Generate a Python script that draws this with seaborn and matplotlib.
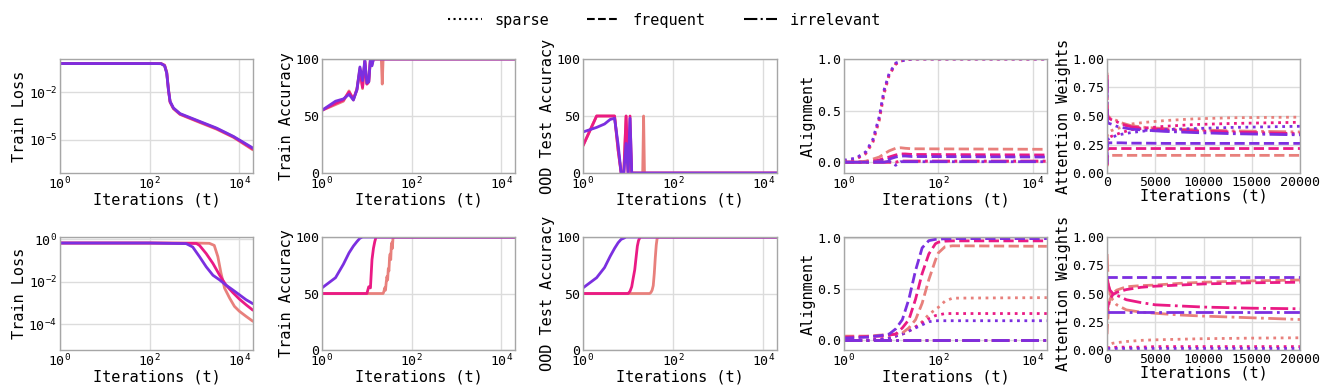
import matplotlib
matplotlib.use("Agg")
import matplotlib.pyplot as plt
from matplotlib.lines import Line2D
import seaborn as sns

# ---------------- colours / names ----------------
series_names = ["salmon", "pink", "purple"]
palette = {"salmon": "#e8807c", "pink": "#ea1a84", "purple": "#7b2fe0"}
token_styles = {"sparse": ":", "frequent": "--", "irrelevant": "-."}
legend_labels = ["sparse", "frequent", "irrelevant"]

ylabels = ["Train Loss", "Train Accuracy", "OOD Test Accuracy", "Alignment", "Attention Weights"]
xlabel = "Iterations (t)"

# ================= TOP ROW =================
# Train loss
top_loss_t = [1, 10, 100, 180, 215, 240, 262, 285, 338, 475, 1320, 3100, 7400, 20000]
top_loss_purple = [0.62, 0.62, 0.62, 0.61, 0.45, 0.155, 0.014, 0.0026, 0.001, 4.4e-4, 1.4e-4, 5.4e-5, 1.6e-5, 3.0e-6]
top_loss_pink = [0.62, 0.62, 0.62, 0.61, 0.46, 0.16, 0.013, 0.0024, 0.00095, 4.1e-4, 1.3e-4, 5.0e-5, 1.5e-5, 2.6e-6]
top_loss_salmon = [0.62, 0.62, 0.62, 0.61, 0.50, 0.18, 0.016, 0.0023, 0.0009, 3.9e-4, 1.2e-4, 4.6e-5, 1.4e-5, 2.3e-6]

# Train accuracy
top_acc_t = [1, 2, 3, 4, 5, 6, 7, 8, 9, 10, 11, 12, 13, 14, 20, 21, 22, 23, 20000]
top_acc_purple = [55, 63, 65, 69, 64, 73, 93, 81, 99, 79, 80, 100, 94, 100, 100, 100, 100, 100, 100]
top_acc_pink = [55, 61, 64, 71, 65, 73, 90, 75, 98, 78, 80, 100, 96, 100, 100, 100, 100, 100, 100]
top_acc_salmon = [55, 60, 63, 72, 64, 74, 92, 74, 98, 78, 80, 100, 95, 100, 100, 100, 78, 100, 100]

# OOD test accuracy
top_ood_t = [1, 2, 3, 4, 5, 6, 7, 8, 9, 10, 11, 12, 21, 22, 23, 20000]
top_ood_purple = [36, 40, 43, 47, 48, 25, 0, 0, 26, 0, 48, 0, 0, 0, 0, 0]
top_ood_pink = [24, 50, 50, 50, 50, 20, 0, 0, 50, 0, 50, 0, 0, 0, 0, 0]
top_ood_salmon = [24, 50, 50, 50, 50, 20, 0, 0, 50, 0, 30, 0, 0, 50, 0, 0]

# Alignment
top_al_t = [1, 1.8, 2.9, 4.1, 5.6, 7.1, 9.1, 12.5, 16, 20, 28, 20000]
top_al_sparse_purple = [0.02, 0.04, 0.10, 0.22, 0.44, 0.70, 0.86, 0.96, 0.98, 0.99, 1.0, 1.0]
top_al_sparse_pink = [0.01, 0.03, 0.09, 0.20, 0.42, 0.68, 0.85, 0.95, 0.98, 0.99, 1.0, 1.0]
top_al_sparse_salmon = [0.01, 0.03, 0.08, 0.19, 0.40, 0.66, 0.84, 0.95, 0.98, 0.99, 1.0, 1.0]
top_al_freq_salmon = [0.0, 0.0, 0.01, 0.03, 0.05, 0.08, 0.11, 0.135, 0.14, 0.135, 0.13, 0.125]
top_al_freq_pink = [0.0, 0.0, 0.0, 0.01, 0.02, 0.04, 0.05, 0.07, 0.08, 0.08, 0.075, 0.07]
top_al_freq_purple = [0.0, 0.0, 0.0, 0.0, 0.01, 0.02, 0.03, 0.05, 0.06, 0.06, 0.055, 0.05]
top_al_irr_salmon = [0.0, 0.0, 0.0, 0.0, 0.0, 0.0, 0.0, 0.0, 0.01, 0.01, 0.01, 0.01]
top_al_irr_pink = [0.0, 0.0, 0.0, 0.0, 0.0, 0.0, 0.0, 0.0, 0.01, 0.01, 0.01, 0.01]
top_al_irr_purple = [0.0, 0.0, 0.0, 0.0, 0.0, 0.0, 0.01, -0.03, 0.005, 0.005, 0.005, 0.005]

# Attention weights
top_att_t = [0, 20, 50, 100, 200, 400, 700, 1000, 1500, 2500, 4000, 6000, 9000, 13000, 20000]
top_att_irr_salmon = [0.88, 0.60, 0.52, 0.50, 0.49, 0.48, 0.47, 0.46, 0.44, 0.415, 0.40, 0.39, 0.38, 0.37, 0.36]
top_att_irr_pink = [0.86, 0.58, 0.51, 0.49, 0.48, 0.47, 0.46, 0.45, 0.43, 0.405, 0.39, 0.38, 0.37, 0.36, 0.345]
top_att_irr_purple = [0.82, 0.50, 0.45, 0.44, 0.435, 0.43, 0.42, 0.41, 0.40, 0.385, 0.375, 0.365, 0.355, 0.345, 0.335]
top_att_freq_salmon = [0.06, 0.12, 0.14, 0.15, 0.155, 0.155, 0.155, 0.155, 0.155, 0.155, 0.155, 0.155, 0.155, 0.155, 0.155]
top_att_freq_pink = [0.07, 0.17, 0.20, 0.21, 0.215, 0.215, 0.215, 0.215, 0.215, 0.215, 0.215, 0.215, 0.215, 0.215, 0.215]
top_att_freq_purple = [0.08, 0.22, 0.25, 0.26, 0.265, 0.265, 0.265, 0.265, 0.265, 0.262, 0.262, 0.26, 0.26, 0.26, 0.26]
top_att_sparse_salmon = [0.06, 0.28, 0.34, 0.35, 0.36, 0.37, 0.38, 0.39, 0.40, 0.43, 0.445, 0.46, 0.475, 0.485, 0.49]
top_att_sparse_pink = [0.07, 0.25, 0.29, 0.30, 0.31, 0.32, 0.33, 0.34, 0.355, 0.38, 0.395, 0.41, 0.425, 0.435, 0.445]
top_att_sparse_purple = [0.10, 0.28, 0.30, 0.30, 0.30, 0.31, 0.32, 0.33, 0.34, 0.355, 0.37, 0.38, 0.39, 0.40, 0.41]

# ================= BOTTOM ROW =================
bot_loss_purple_t = [1, 100, 650, 910, 1290, 1820, 2570, 3630, 5010, 7080, 10000, 14100, 20000]
bot_loss_purple = [0.66, 0.66, 0.62, 0.43, 0.15, 0.050, 0.020, 0.012, 0.0069, 0.0041, 0.0024, 0.0014, 0.00091]
bot_loss_pink_t = [1, 100, 1100, 1290, 1820, 2570, 3630, 5010, 7080, 10000, 14100, 20000]
bot_loss_pink = [0.66, 0.66, 0.63, 0.51, 0.21, 0.072, 0.020, 0.0069, 0.0031, 0.0015, 0.00081, 0.00045]
bot_loss_salmon_t = [1, 100, 1000, 2140, 2750, 3310, 3890, 4680, 6030, 7760, 10000, 14100, 20000]
bot_loss_salmon = [0.66, 0.66, 0.66, 0.64, 0.51, 0.15, 0.025, 0.0049, 0.0017, 0.00068, 0.00040, 0.00023, 0.000135]

bot_acc_purple_t = [1, 2, 3, 4, 5, 6, 7, 8, 20000]
bot_acc_purple = [55, 64, 76, 86, 92, 96, 99, 100, 100]
bot_acc_pink_t = [1, 10, 11, 12, 13, 14, 15, 16, 20000]
bot_acc_pink = [50, 50, 56, 55, 80, 90, 96, 100, 100]
bot_acc_salmon_t = [1, 23, 24, 25, 26, 27, 28, 29, 30, 31, 32, 33, 34, 35, 36, 37, 38, 39, 20000]
bot_acc_salmon = [50, 50, 52, 55, 53, 60, 65, 62, 72, 70, 82, 85, 80, 92, 95, 90, 98, 100, 100]

bot_ood_purple_t = [1, 2, 3, 4, 5, 6, 7, 8, 9, 20000]
bot_ood_purple = [55, 64, 73, 83, 90, 95, 98, 99, 100, 100]
bot_ood_pink_t = [1, 10, 11, 12, 13, 14, 15, 16, 17, 18, 19, 20000]
bot_ood_pink = [50, 50, 52, 56, 64, 71, 82, 92, 97, 99, 100, 100]
bot_ood_salmon_t = [1, 30, 32, 34, 36, 38, 40, 42, 44, 46, 20000]
bot_ood_salmon = [50, 50, 51, 53, 57, 68, 82, 93, 99, 100, 100]

bot_al_t = [1, 3, 6, 9.1, 12.5, 17.3, 23.8, 33, 45.5, 63, 87, 100, 138, 200, 20000]
bot_al_freq_purple = [0.02, 0.03, 0.045, 0.06, 0.11, 0.20, 0.40, 0.68, 0.90, 0.97, 0.983, 0.985, 0.988, 0.99, 0.99]
bot_al_freq_pink = [0.03, 0.035, 0.04, 0.05, 0.06, 0.12, 0.20, 0.40, 0.65, 0.84, 0.94, 0.955, 0.965, 0.968, 0.968]
bot_al_freq_salmon = [0.04, 0.04, 0.05, 0.055, 0.06, 0.07, 0.12, 0.20, 0.36, 0.59, 0.78, 0.85, 0.91, 0.92, 0.915]
bot_al_sparse_salmon = [0.0, 0.0, 0.01, 0.02, 0.04, 0.06, 0.09, 0.13, 0.18, 0.25, 0.30, 0.32, 0.38, 0.41, 0.415]
bot_al_sparse_pink = [0.0, 0.0, 0.01, 0.02, 0.04, 0.06, 0.09, 0.13, 0.17, 0.21, 0.24, 0.245, 0.26, 0.26, 0.26]
bot_al_sparse_purple = [0.0, 0.0, 0.01, 0.02, 0.04, 0.06, 0.09, 0.12, 0.15, 0.18, 0.19, 0.19, 0.19, 0.19, 0.19]
bot_al_irr = [0.0, 0.0, 0.0, 0.0, 0.0, 0.0, 0.0, 0.0, 0.0, 0.0, 0.0, 0.0, 0.0, 0.0, 0.0]

bot_att_t = [0, 50, 150, 300, 600, 1000, 2000, 3500, 5000, 7500, 10000, 15000, 20000]
bot_att_irr_salmon = [0.85, 0.75, 0.58, 0.50, 0.44, 0.40, 0.355, 0.335, 0.325, 0.31, 0.30, 0.285, 0.27]
bot_att_freq_salmon = [0.14, 0.23, 0.38, 0.45, 0.50, 0.53, 0.56, 0.57, 0.575, 0.59, 0.60, 0.612, 0.62]
bot_att_sparse_salmon = [0.01, 0.02, 0.04, 0.05, 0.06, 0.065, 0.075, 0.085, 0.09, 0.095, 0.10, 0.105, 0.108]
bot_att_freq_pink = [0.34, 0.36, 0.41, 0.45, 0.49, 0.51, 0.535, 0.555, 0.565, 0.575, 0.585, 0.595, 0.60]
bot_att_irr_pink = [0.64, 0.62, 0.57, 0.53, 0.50, 0.485, 0.445, 0.42, 0.40, 0.39, 0.38, 0.37, 0.365]
bot_att_sparse_pink = [0.02, 0.02, 0.02, 0.02, 0.02, 0.025, 0.025, 0.025, 0.03, 0.03, 0.03, 0.03, 0.03]
bot_att_freq_purple = [0.645, 0.645, 0.645, 0.645, 0.645, 0.645, 0.645, 0.645, 0.645, 0.645, 0.645, 0.645, 0.645]
bot_att_irr_purple = [0.335, 0.335, 0.335, 0.335, 0.335, 0.335, 0.335, 0.335, 0.335, 0.335, 0.335, 0.335, 0.335]
bot_att_sparse_purple = [0.02, 0.02, 0.02, 0.02, 0.02, 0.02, 0.02, 0.02, 0.02, 0.02, 0.02, 0.02, 0.02]

# ---------------- style ----------------
sns.set_theme(style="whitegrid")
plt.rcParams["font.family"] = ["DejaVu Sans Mono", "DejaVu Sans"]
plt.rcParams["axes.edgecolor"] = "#a6a6a6"
plt.rcParams["grid.color"] = "#dcdcdc"
plt.rcParams["axes.linewidth"] = 1.0
plt.rcParams["xtick.labelsize"] = 9.5
plt.rcParams["ytick.labelsize"] = 9.5
plt.rcParams["axes.labelsize"] = 11
plt.rcParams["text.color"] = "black"
plt.rcParams["axes.labelcolor"] = "black"
plt.rcParams["xtick.color"] = "black"
plt.rcParams["ytick.color"] = "black"
plt.rcParams["xtick.major.size"] = 0
plt.rcParams["ytick.major.size"] = 0

fig = plt.figure(figsize=(13.29, 3.88), dpi=100)

col_left = [0.0451, 0.2423, 0.4387, 0.6350, 0.8330]
col_width = [0.1452, 0.1452, 0.1460, 0.1527, 0.1452]
row_bottom = [0.554, 0.098]
row_height = [0.294, 0.291]

axes = [[fig.add_axes([col_left[c], row_bottom[r], col_width[c], row_height[r]]) for c in range(5)] for r in range(2)]

LW = 2.0


def draw(ax, x, y, color, ls="-"):
    sns.lineplot(x=x, y=y, ax=ax, color=palette[color], linestyle=ls, lw=LW,
                 estimator=None, sort=False, legend=False)


# ----- top row -----
ax = axes[0][0]
draw(ax, top_loss_t, top_loss_salmon, "salmon")
draw(ax, top_loss_t, top_loss_pink, "pink")
draw(ax, top_loss_t, top_loss_purple, "purple")
ax.set_yscale("log")
ax.set_ylim(8e-8, 1.2)
ax.set_yticks([1e-5, 1e-2])

ax = axes[0][1]
draw(ax, top_acc_t, top_acc_salmon, "salmon")
draw(ax, top_acc_t, top_acc_pink, "pink")
draw(ax, top_acc_t, top_acc_purple, "purple")

ax = axes[0][2]
draw(ax, top_ood_t, top_ood_salmon, "salmon")
draw(ax, top_ood_t, top_ood_pink, "pink")
draw(ax, top_ood_t, top_ood_purple, "purple")

ax = axes[0][3]
for name, ys in [("salmon", top_al_sparse_salmon), ("pink", top_al_sparse_pink), ("purple", top_al_sparse_purple)]:
    draw(ax, top_al_t, ys, name, ":")
for name, ys in [("salmon", top_al_freq_salmon), ("pink", top_al_freq_pink), ("purple", top_al_freq_purple)]:
    draw(ax, top_al_t, ys, name, "--")
for name, ys in [("salmon", top_al_irr_salmon), ("pink", top_al_irr_pink), ("purple", top_al_irr_purple)]:
    draw(ax, top_al_t, ys, name, "-.")
ax.set_ylim(-0.105, 1.0)

ax = axes[0][4]
for name, s, f, i in [("salmon", top_att_sparse_salmon, top_att_freq_salmon, top_att_irr_salmon),
                      ("pink", top_att_sparse_pink, top_att_freq_pink, top_att_irr_pink),
                      ("purple", top_att_sparse_purple, top_att_freq_purple, top_att_irr_purple)]:
    draw(ax, top_att_t, s, name, ":")
    draw(ax, top_att_t, f, name, "--")
    draw(ax, top_att_t, i, name, "-.")

# ----- bottom row -----
ax = axes[1][0]
draw(ax, bot_loss_salmon_t, bot_loss_salmon, "salmon")
draw(ax, bot_loss_pink_t, bot_loss_pink, "pink")
draw(ax, bot_loss_purple_t, bot_loss_purple, "purple")
ax.set_yscale("log")
ax.set_ylim(6e-6, 1.26)
ax.set_yticks([1e-4, 1e-2, 1e0])

ax = axes[1][1]
draw(ax, bot_acc_salmon_t, bot_acc_salmon, "salmon")
draw(ax, bot_acc_pink_t, bot_acc_pink, "pink")
draw(ax, bot_acc_purple_t, bot_acc_purple, "purple")

ax = axes[1][2]
draw(ax, bot_ood_salmon_t, bot_ood_salmon, "salmon")
draw(ax, bot_ood_pink_t, bot_ood_pink, "pink")
draw(ax, bot_ood_purple_t, bot_ood_purple, "purple")

ax = axes[1][3]
for name, ys in [("salmon", bot_al_sparse_salmon), ("pink", bot_al_sparse_pink), ("purple", bot_al_sparse_purple)]:
    draw(ax, bot_al_t, ys, name, ":")
for name, ys in [("salmon", bot_al_freq_salmon), ("pink", bot_al_freq_pink), ("purple", bot_al_freq_purple)]:
    draw(ax, bot_al_t, ys, name, "--")
for name in series_names:
    draw(ax, bot_al_t, bot_al_irr, name, "-.")
ax.set_ylim(-0.095, 1.005)

ax = axes[1][4]
for name, s, f, i in [("salmon", bot_att_sparse_salmon, bot_att_freq_salmon, bot_att_irr_salmon),
                      ("pink", bot_att_sparse_pink, bot_att_freq_pink, bot_att_irr_pink),
                      ("purple", bot_att_sparse_purple, bot_att_freq_purple, bot_att_irr_purple)]:
    draw(ax, bot_att_t, s, name, ":")
    draw(ax, bot_att_t, f, name, "--")
    draw(ax, bot_att_t, i, name, "-.")

# ----- common axis formatting -----
for r in range(2):
    for c in range(5):
        ax = axes[r][c]
        ax.set_ylabel(ylabels[c], labelpad=1)
        ax.set_xlabel(xlabel, labelpad=0)
        if c < 4:
            ax.set_xscale("log")
            ax.set_xlim(1, 20000)
            ax.set_xticks([1, 100, 10000])
            ax.minorticks_off()
        else:
            ax.set_xlim(0, 20000)
            ax.set_xticks([0, 5000, 10000, 15000, 20000])
            ax.set_ylim(0, 1)
            ax.set_yticks([0, 0.25, 0.5, 0.75, 1.0])
            ax.set_yticklabels(["0.00", "0.25", "0.50", "0.75", "1.00"])
        if c in (1, 2):
            ax.set_ylim(0, 100)
            ax.set_yticks([0, 50, 100])
        if c == 3:
            ax.set_yticks([0.0, 0.5, 1.0])
        ax.tick_params(axis="x", pad=2)
        ax.tick_params(axis="y", pad=2)
        ax.grid(True, which="major")

# ----- legend -----
handles = [Line2D([0], [0], color="black", linestyle=token_styles[k], lw=1.5) for k in legend_labels]
fig.legend(handles, legend_labels, loc="center", bbox_to_anchor=(0.5, 0.948), ncol=3,
           frameon=False, fontsize=11, handlelength=2.2, columnspacing=2.5)

fig.savefig("out.png", dpi=100)
